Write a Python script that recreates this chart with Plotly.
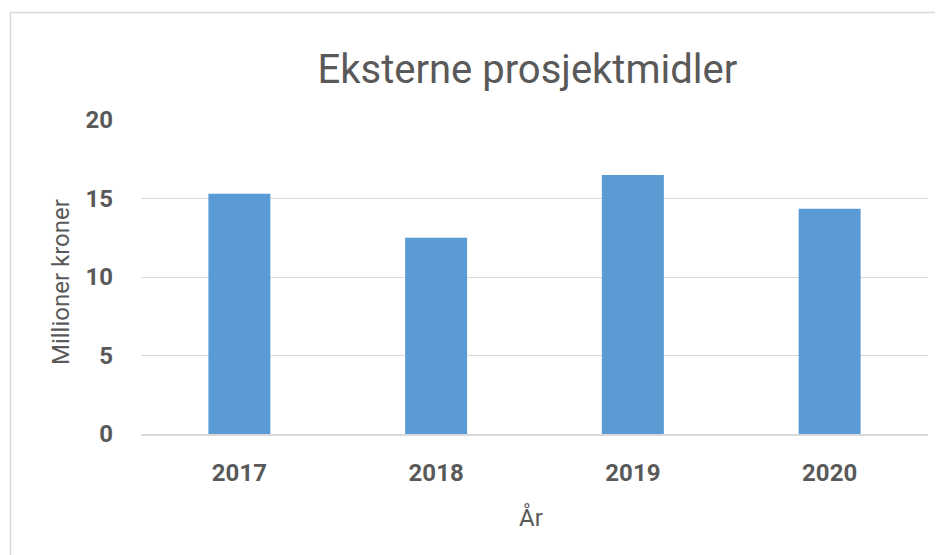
import plotly.graph_objects as go

years = ["2017", "2018", "2019", "2020"]
values = [15.3, 12.5, 16.5, 14.35]
y_ticks = [0, 5, 10, 15, 20]

W, H = 935, 547
L, R, T, B = 133, 15, 112, 121
pw = W - L - R
ph = H - T - B

FONT = "Roboto, Open Sans, sans-serif"
GREY = "#595959"

fig = go.Figure(go.Bar(x=years, y=values, marker_color="#5B9BD5", marker_line_width=0))

def px_x(p):
    return (p - L) / pw

def px_y(p):
    return (H - B - p) / ph

fig.update_layout(
    width=W, height=H,
    margin=dict(l=L, r=R, t=T, b=B),
    paper_bgcolor="white", plot_bgcolor="white",
    bargap=0.685,
    showlegend=False,
    font=dict(family=FONT, color=GREY),
    title=dict(text="Eksterne prosjektmidler", x=0.491, xref="paper", xanchor="center",
               y=1 - 61 / H, yanchor="middle",
               font=dict(size=40, color=GREY, family=FONT)),
    shapes=[dict(type="rect", xref="paper", yref="paper",
                 x0=px_x(2.5), x1=px_x(960), y0=px_y(570), y1=px_y(4.5),
                 line=dict(color="#d9d9d9", width=1.5), fillcolor="rgba(0,0,0,0)", layer="below")],
    annotations=[
        dict(text="Millioner kroner", xref="paper", yref="paper",
             x=px_x(53), y=px_y(274), xanchor="center", yanchor="middle",
             textangle=-90, showarrow=False, font=dict(size=24, color=GREY, family=FONT)),
        dict(text="År", xref="paper", yref="paper",
             x=px_x(523), y=px_y(509), xanchor="center", yanchor="middle",
             showarrow=False, font=dict(size=24, color=GREY, family=FONT)),
    ],
)

fig.update_xaxes(
    showgrid=False, showline=True, linecolor="#d9d9d9", linewidth=1.5,
    tickfont=dict(size=24, color=GREY, family=FONT, weight="bold"),
    ticks="", ticklabelstandoff=16,
)
fig.update_yaxes(
    range=[0, 20], tickvals=y_ticks, showgrid=True, gridcolor="#d9d9d9", gridwidth=1,
    zeroline=False, showline=False,
    tickfont=dict(size=24, color=GREY, family=FONT, weight="bold"),
    ticks="", ticklabelstandoff=27,
)

fig.write_html("out.html")
